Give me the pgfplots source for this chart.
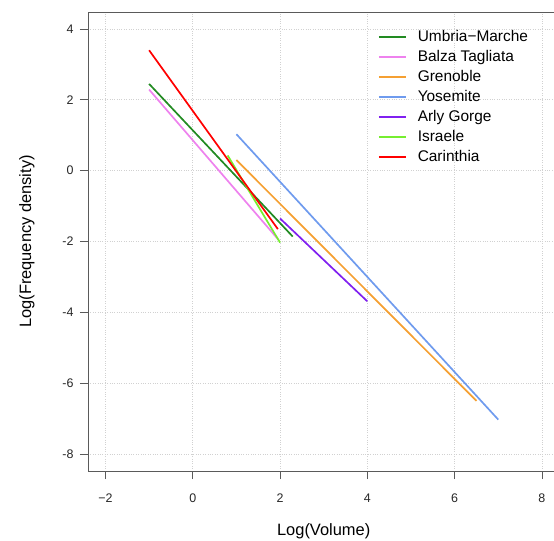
\documentclass[border=0pt]{standalone}
\usepackage{fontspec}
\setmainfont{Liberation Sans}
\usepackage{pgfplots}
\pgfplotsset{compat=1.18}

\definecolor{umbria}{HTML}{228B22}
\definecolor{balza}{HTML}{EE82EE}
\definecolor{grenoble}{HTML}{F5A032}
\definecolor{yosemite}{HTML}{6F9BEE}
\definecolor{arly}{HTML}{8020F0}
\definecolor{israele}{HTML}{76EE30}
\definecolor{carinthia}{HTML}{FF0000}
\definecolor{axisgrey}{HTML}{5A5A5A}

\begin{document}
\begin{tikzpicture}
\begin{axis}[
    scale only axis,
    width=471.4bp, height=459bp,
    xmin=-2.4, xmax=8.4,
    ymin=-8.48, ymax=4.48,
    xtick={-2,0,2,4,6,8},
    ytick={-8,-6,-4,-2,0,2,4},
    xticklabels={−2,0,2,4,6,8},
    xtick pos=bottom, ytick pos=left,
    tick align=outside,
    major tick length=8bp,
    axis line style={axisgrey, line width=0.9bp},
    tick style={axisgrey, line width=0.9bp},
    grid=major,
    grid style={dotted, black!18, line width=0.7bp},
    /pgf/number format/assume math mode=true,
    ticklabel style={font=\fontsize{12.5}{14}\selectfont, text=black!85},
    xticklabel style={yshift=-11bp},
    yticklabel style={xshift=-3bp},
    xlabel={Log(Volume)},
    ylabel={Log(Frequency density)},
    every axis x label/.style={at={(axis description cs:0.5,0)}, anchor=center, yshift=-60bp,
        font=\fontsize{16.5}{19}\selectfont},
    every axis y label/.style={at={(axis description cs:0,0.5)}, anchor=center, rotate=90, yshift=61bp,
        font=\fontsize{16.5}{19}\selectfont},
    legend cell align=left,
    legend style={at={(axis cs:4.17,4.08)}, anchor=north west, draw=none, fill=none,
        font=\fontsize{15.5}{18}\selectfont,
        nodes={text height=11bp, text depth=3bp, inner sep=2bp},
        row sep=2bp, column sep=9bp},
    legend image code/.code={\draw[#1, line width=1.8bp] (0bp,0bp) -- (27bp,0bp);},
    every axis plot/.append style={line width=1.7bp},
]
\addplot[umbria] coordinates {(-1,2.45) (2.29,-1.86)};
\addlegendentry{Umbria−Marche}
\addplot[balza] coordinates {(-1,2.29) (1.95,-1.93)};
\addlegendentry{Balza Tagliata}
\addplot[grenoble] coordinates {(1,0.30) (6.5,-6.5)};
\addlegendentry{Grenoble}
\addplot[yosemite] coordinates {(1,1.03) (7,-7.03)};
\addlegendentry{Yosemite}
\addplot[arly] coordinates {(2,-1.35) (4,-3.69)};
\addlegendentry{Arly Gorge}
\addplot[israele] coordinates {(0.8,0.43) (2,-2.03)};
\addlegendentry{Israele}
\addplot[carinthia] coordinates {(-1,3.40) (1.95,-1.65)};
\addlegendentry{Carinthia}
\end{axis}
\pgfresetboundingbox
\useasboundingbox ([shift={(-88bp,-69bp)}]current axis.south west) rectangle ([shift={(466bp,12bp)}]current axis.north west);
\end{tikzpicture}
\end{document}
